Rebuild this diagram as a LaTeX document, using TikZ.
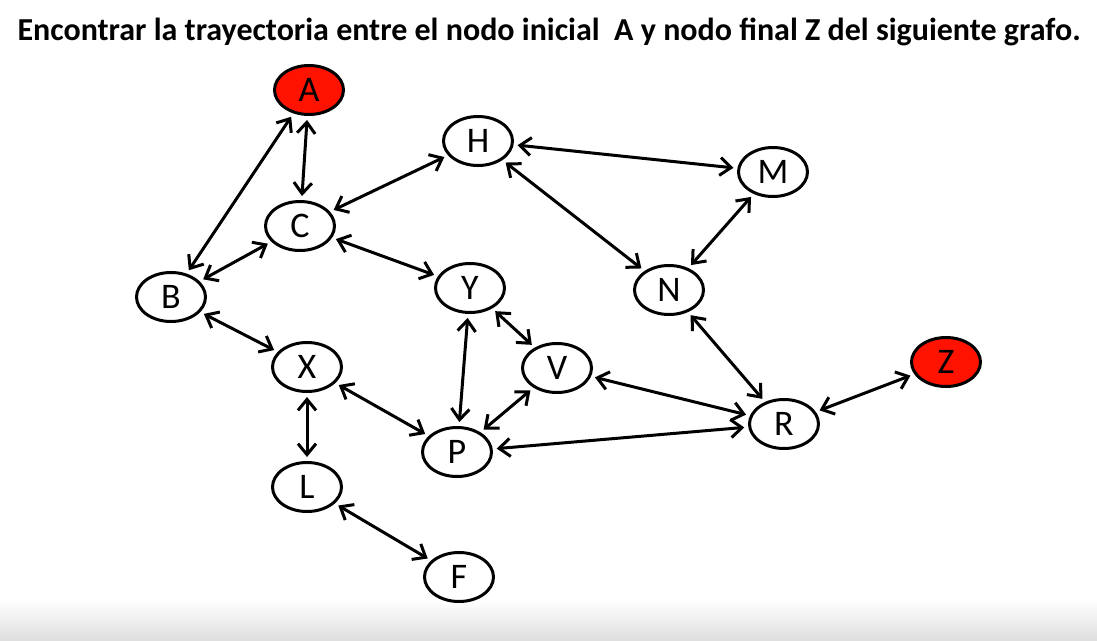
\documentclass[tikz,border=0pt]{standalone}
\usepackage{fontspec}
\setmainfont{Carlito}
\usetikzlibrary{shapes.geometric,arrows.meta}

\begin{document}
\begin{tikzpicture}[x=1pt,y=-1pt,
    vert/.style={shape=ellipse, draw, line width=3pt, minimum width=69pt, minimum height=49pt, inner sep=0pt, font=\fontsize{36}{38}\selectfont},
    goal/.style={vert, fill=red!85!orange},
    link/.style={line width=3pt, {Straight Barb[length=11pt,width=18pt]}-{Straight Barb[length=11pt,width=18pt]}, shorten <=4pt, shorten >=4pt}]
    \useasboundingbox (0,0) rectangle (1097,640);
    \shade[top color=white, bottom color=black!13] (0,600) rectangle (1097,640);

    \node (title) at (549,32) {\fontsize{32}{36}\selectfont\bfseries Encontrar la trayectoria entre el nodo inicial\ \ A y nodo final Z del siguiente grafo.};

    \node[goal] (A) at (309,90) {A};
    \node[vert] (H) at (478,141) {H};
    \node[vert] (M) at (773,172) {M};
    \node[vert] (C) at (300,226) {C};
    \node[vert] (B) at (171,297) {B};
    \node[vert] (Y) at (470,288) {Y};
    \node[vert] (N) at (669,290) {N};
    \node[vert] (V) at (557,368) {V};
    \node[vert] (X) at (307,367) {X};
    \node[goal] (Z) at (946,362) {Z};
    \node[vert] (R) at (784,424) {R};
    \node[vert] (P) at (457,452) {P};
    \node[vert] (L) at (307,487) {L};
    \node[vert] (F) at (459,577) {F};

    \draw[link] (A) -- (B);
    \draw[link] (A) -- (C);
    \draw[link] (C) -- (H);
    \draw[link] (C) -- (B);
    \draw[link] (C) -- (Y);
    \draw[link] (H) -- (M);
    \draw[link] (H) -- (N);
    \draw[link] (M) -- (N);
    \draw[link] (N) -- (R);
    \draw[link] (R) -- (Z);
    \draw[link] (R) -- (V);
    \draw[link] (R) -- (P);
    \draw[link] (Y) -- (P);
    \draw[link] (Y) -- (V);
    \draw[link] (V) -- (P);
    \draw[link] (B) -- (X);
    \draw[link] (X) -- (P);
    \draw[link] (X) -- (L);
    \draw[link] (L) -- (F);

  \end{tikzpicture}
\end{document}
